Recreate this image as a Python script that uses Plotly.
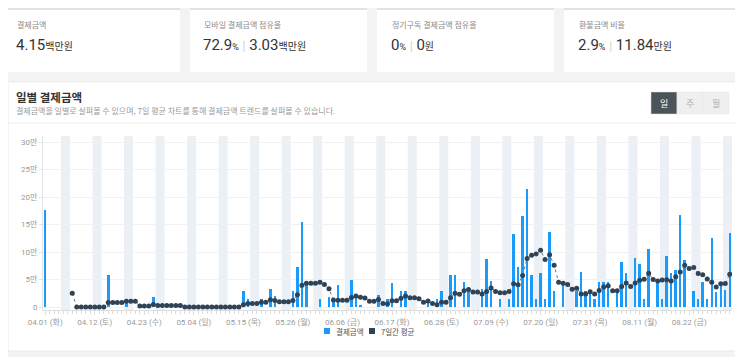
import pandas as pd
import plotly.graph_objects as go

# ---------------- data ----------------
start_date = "2025-04-01"
end_date = "2025-08-31"

# daily payment amount in 만원 (10,000 KRW), one row per week starting Tuesday 04.01
daily_amount_man = [
    17.6, 0, 0, 0, 0, 0, 0,
    0, 0, 0, 0, 0, 0, 0,
    5.8, 0, 0, 0, 1.4, 0, 0,
    0, 0, 0, 1.9, 0, 0, 0,
    0, 0, 0, 0, 0, 0, 0,
    0, 0, 0, 0, 0, 0, 0,
    0, 0, 3.0, 1.5, 0, 0, 1.5,
    0, 3.3, 2.0, 0, 0, 0, 3.0,
    7.3, 15.5, 4.3, 0, 0, 1.5, 0,
    1.9, 1.2, 4.0, 0, 0, 4.9, 2.0,
    0.4, 0, 0, 0, 2.2, 0, 1.5,
    4.4, 0, 3.0, 3.0, 0, 0, 0,
    0, 1.5, 0, 1.5, 3.0, 0, 5.8,
    5.8, 0, 4.6, 3.0, 0, 0, 3.3,
    8.7, 4.7, 0, 1.5, 0, 1.5, 13.3,
    7.3, 16.6, 21.5, 5.8, 1.5, 6.1, 1.5,
    13.6, 3.0, 0, 4.5, 0, 0, 2.9,
    6.3, 2.9, 2.9, 1.45, 4.5, 4.5, 4.5,
    0, 2.8, 8.2, 6.1, 0, 9.0, 7.8,
    1.45, 10.5, 0, 4.3, 1.45, 9.2, 6.1,
    6.8, 16.8, 8.5, 0, 2.9, 1.45, 4.5,
    1.45, 12.6, 2.7, 4.0, 3.1, 13.4,
]

tick_dates = ["2025-04-01", "2025-04-12", "2025-04-23", "2025-05-04", "2025-05-15",
              "2025-05-26", "2025-06-06", "2025-06-17", "2025-06-28", "2025-07-09",
              "2025-07-20", "2025-07-31", "2025-08-11", "2025-08-22"]
tick_labels = ["04.01 (화)", "04.12 (토)", "04.23 (수)", "05.04 (일)", "05.15 (목)",
               "05.26 (월)", "06.06 (금)", "06.17 (화)", "06.28 (토)", "07.09 (수)",
               "07.20 (일)", "07.31 (목)", "08.11 (월)", "08.22 (금)"]

y_tick_vals = [0, 50000, 100000, 150000, 200000, 250000, 300000]
y_tick_labels = ["0", "5만", "10만", "15만", "20만", "25만", "30만"]

series_names = ["결제금액", "7일간 평균"]

kpi_labels = ["결제금액", "모바일 결제금액 점유율", "정기구독 결제금액 점유율", "환불금액 비율"]

# ---------------- derived ----------------
dates = pd.date_range(start_date, end_date, freq="D")
amount = pd.Series([v * 10000 for v in daily_amount_man], index=dates)
avg7 = amount.rolling(7).mean()   # 7-day average as displayed by the chart

# page is shown with an 8px body margin, so the figure is sized to fit the window
OFF = 8
W, H = 743 - OFF, 357 - OFF
L, R, T, B = 35, 11, 128, 47
PW, PH = W - L - R, H - T - B


def px(x):
    """page x pixel -> paper coordinate"""
    return (max(x, OFF) - OFF - L) / PW


def py(y):
    """page y pixel -> paper coordinate"""
    return (H - B - (max(y, OFF) - OFF)) / PH


FONT = "Roboto, 'Noto Sans CJK KR', sans-serif"
KFONT = "'Noto Sans CJK KR', Roboto, sans-serif"
BLUE = "#1a9bfb"
NAVY = "#2f4356"

fig = go.Figure()
fig.add_trace(go.Bar(
    x=dates, y=amount.values, name=series_names[0],
    marker=dict(color=BLUE, line=dict(width=0)), width=0.55 * 86400000,
    hoverinfo="skip", showlegend=False,
))
fig.add_trace(go.Scatter(
    x=dates, y=avg7.values, name=series_names[1], mode="lines+markers",
    line=dict(color="#6b7a88", width=1, dash="dot"),
    marker=dict(color=NAVY, size=5),
    hoverinfo="skip", showlegend=False, connectgaps=False,
))

shapes = []
annotations = []

# page panels
for x0, x1 in [(3, 180), (190, 367), (377, 554), (564, 740)]:
    shapes.append(dict(type="rect", xref="paper", yref="paper", x0=px(x0), x1=px(x1),
                       y0=py(72), y1=py(4), fillcolor="white", line=dict(width=0), layer="below"))
    shapes.append(dict(type="line", xref="paper", yref="paper", x0=px(x0), x1=px(x1),
                       y0=py(9), y1=py(9), line=dict(color="#e2e2e2", width=2), layer="below"))
shapes.append(dict(type="rect", xref="paper", yref="paper", x0=px(3), x1=px(740),
                   y0=py(351), y1=py(82), fillcolor="white", line=dict(color="#ebebeb", width=1),
                   layer="below"))
shapes.append(dict(type="line", xref="paper", yref="paper", x0=px(3), x1=px(740),
                   y0=py(123), y1=py(123), line=dict(color="#ececec", width=1), layer="below"))

# weekend bands
for d in dates:
    if d.weekday() == 5:
        shapes.append(dict(type="rect", xref="x", yref="paper",
                           x0=d - pd.Timedelta(hours=12), x1=d + pd.Timedelta(hours=36),
                           y0=0, y1=1, fillcolor="#ebf0f6", line=dict(width=0), layer="below"))

# toggle buttons
btns = [("일", 651, 677, "#4b5459", "#ffffff"), ("주", 677, 703, "#efefef", "#b0b0b0"),
        ("월", 703, 729, "#efefef", "#b0b0b0")]
for t, x0, x1, bg, fg in btns:
    shapes.append(dict(type="rect", xref="paper", yref="paper", x0=px(x0), x1=px(x1),
                       y0=py(114), y1=py(92), fillcolor=bg, line=dict(color="#e6e6e6", width=0.5),
                       layer="below"))
    annotations.append(dict(xref="paper", yref="paper", x=px((x0 + x1) / 2), y=py(103), text=t,
                            showarrow=False, font=dict(family=KFONT, size=9, color=fg),
                            xanchor="center", yanchor="middle"))

# KPI texts
card_x = [15, 202, 390, 577]
kpi_values = [
    "4.15<span style='font-size:10px'>백만원</span>",
    "72.9<span style='font-size:9px'>%</span> <span style='color:#d0d0d0;font-size:12px'>|</span> 3.03<span style='font-size:10px'>백만원</span>",
    "0<span style='font-size:9px'>%</span> <span style='color:#d0d0d0;font-size:12px'>|</span> 0<span style='font-size:10px'>원</span>",
    "2.9<span style='font-size:9px'>%</span> <span style='color:#d0d0d0;font-size:12px'>|</span> 11.84<span style='font-size:10px'>만원</span>",
]
for cx, lab, val in zip(card_x, kpi_labels, kpi_values):
    annotations.append(dict(xref="paper", yref="paper", x=px(cx), y=py(25), text=lab,
                            showarrow=False, font=dict(family=KFONT, size=8, color="#8a8a8a"),
                            xanchor="left", yanchor="middle"))
    annotations.append(dict(xref="paper", yref="paper", x=px(cx - 1), y=py(45), text=val,
                            showarrow=False, font=dict(family=FONT, size=15, color="#333333"),
                            xanchor="left", yanchor="middle"))

# chart title
annotations.append(dict(xref="paper", yref="paper", x=px(14), y=py(97), text="<b>일별 결제금액</b>",
                        showarrow=False, font=dict(family=KFONT, size=11.5, color="#333333"),
                        xanchor="left", yanchor="middle"))
annotations.append(dict(xref="paper", yref="paper", x=px(14), y=py(110),
                        text="결제금액을 일별로 살펴볼 수 있으며, 7일 평균 차트를 통해 결제금액 트렌드를 살펴볼 수 있습니다.",
                        showarrow=False, font=dict(family=KFONT, size=8, color="#9a9a9a"),
                        xanchor="left", yanchor="middle"))

# legend
for (sx, tx, col, name) in [(327, 334, BLUE, series_names[0]), (372, 379, NAVY, series_names[1])]:
    shapes.append(dict(type="rect", xref="paper", yref="paper", x0=px(sx - 3), x1=px(sx + 3),
                       y0=py(334), y1=py(328), fillcolor=col, line=dict(width=0)))
    annotations.append(dict(xref="paper", yref="paper", x=px(tx), y=py(331), text=name,
                            showarrow=False, font=dict(family=KFONT, size=7.5, color="#555555"),
                            xanchor="left", yanchor="middle"))

fig.update_layout(
    width=W, height=H,
    margin=dict(l=L, r=R, t=T, b=B, pad=0),
    paper_bgcolor="#f3f3f3", plot_bgcolor="white",
    bargap=0, showlegend=False,
    shapes=shapes, annotations=annotations,
    font=dict(family=FONT, size=8, color="#999999"),
)
fig.update_xaxes(
    type="date",
    range=[dates[0] - pd.Timedelta(hours=12), dates[-1] + pd.Timedelta(hours=12)],
    tickvals=pd.to_datetime(tick_dates), ticktext=tick_labels,
    tickfont=dict(family=FONT, size=8, color="#9a9a9a"),
    showgrid=False, showline=True, linecolor="#dddddd", linewidth=1,
    ticks="outside", ticklen=4, tickcolor="#dddddd",
    minor=dict(dtick=86400000, ticks="outside", ticklen=3, tickcolor="#dddddd", showgrid=False,
               tick0=dates[0]),
    zeroline=False, fixedrange=True,
)
fig.update_yaxes(
    range=[-5450, 310900],
    tickvals=y_tick_vals, ticktext=y_tick_labels,
    tickfont=dict(family=FONT, size=8, color="#9a9a9a"),
    showgrid=True, gridcolor="#f1f1f1", gridwidth=1,
    showline=True, linecolor="#e4e4e4", linewidth=1,
    ticks="outside", ticklen=3, tickcolor="#e4e4e4",
    zeroline=False, fixedrange=True,
)

fig.write_html("out.html")
